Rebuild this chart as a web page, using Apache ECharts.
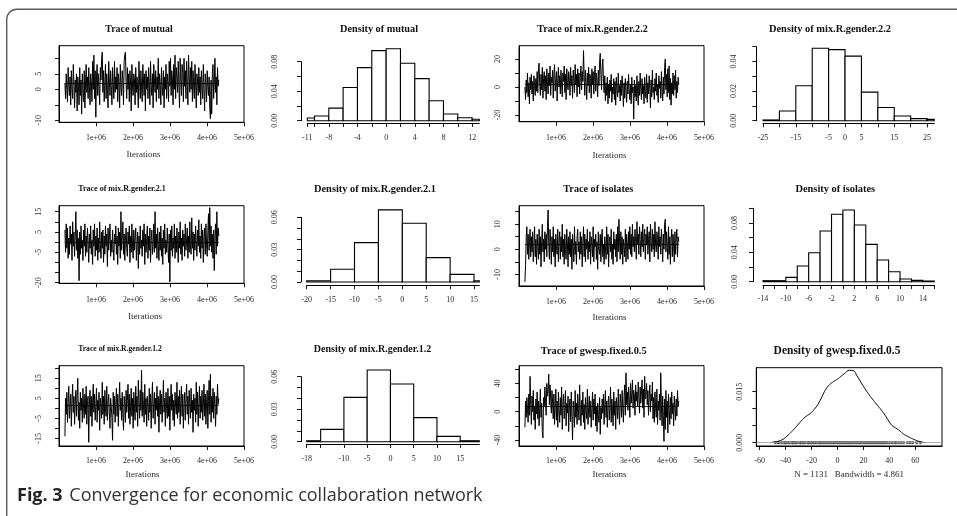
<!DOCTYPE html>
<html><head><meta charset="utf-8">
<script src="https://cdn.jsdelivr.net/npm/echarts@6/dist/echarts.min.js"></script>
<style>html,body{margin:0;padding:0;background:#fff}#c{width:957px;height:516px}</style>
</head><body><div id="c"></div>
<script>
// ---------------- DATA ----------------
const traceIterStart = 160000;   // first sampled iteration
const traceIterThin = 17400;     // iterations between kept samples
const traceXTickValues = [1e6, 2e6, 3e6, 4e6, 5e6];

const traceMutual = [
  2,-3,5,0,-4,7,1,-2,4,-5, 6,0,-3,8,2,-6,3,-1,5,-7, 4,1,-5,7,-2,3,-8,5,0,-4,
  6,-6,2,8,-1,4,-3,7,1,-5, 5,2,-4,9,0,11,-3,6,-9,4, 8,-2,5,1,-5,7,3,10,12,-1,
  6,-4,2,8,-3,5,0,-6,9,3, -2,6,1,-5,7,2,-3,9,-1,4, 0,7,-4,5,2,-6,8,1,-2,6,
  3,-5,9,11,12,2,-3,7,0,5, -4,6,2,-7,8,1,-2,5,3,-5, 7,-1,4,0,-6,9,2,-3,6,1,
  -4,8,3,-2,5,-7,6,0,4,-3, 7,2,-5,9,1,-2,5,-6,8,3, -1,6,-4,4,0,10,-3,5,2,-5,
  7,1,-2,6,-6,4,0,8,-3,5, 2,-4,9,1,10,-2,6,3,-5,8, 0,11,-3,7,4,-1,9,2,-6,10,
  3,-2,8,5,-4,10,1,6,-3,9, 2,-5,11,4,-1,7,0,9,-4,6, 1,-3,8,2,-6,5,3,-2,7,-1,
  4,-5,6,1,-3,8,0,-7,5,2, -4,6,1,-2,4,-6,-9.5,3,-8,5, 8,-3,2,10,-1,4,-5,7,1,3];
const traceGender22 = [
  0,-9,5,-4,10,-7,3,-12,7,-2, 9,-5,4,-10,8,1,-6,6,-3,11, -4,13,17,2,-6,9,-2,14,-8,6,
  11,-3,8,-9,13,4,-5,10,1,15, -6,7,3,12,-8,9,16,-3,5,11, -10,6,14,0,8,-5,12,2,-7,10,
  4,15,-4,9,-9,13,3,-2,11,6, -6,14,1,8,-8,12,5,-4,16,2, 9,-7,13,0,10,-5,7,15,-2,11,
  4,26,8,-6,12,3,-9,10,1,14, -4,9,6,-8,13,2,11,-5,8,15, -3,10,5,-7,12,1,18,24,9,-2,
  14,20,6,-4,8,-10,3,-6,7,-12, 2,-8,5,-3,9,-11,0,-5,6,-9, 4,-13,7,-2,-7,10,-4,1,-10,5,
  -6,8,-1,-14,3,-8,6,-3,-11,4, -5,9,-2,-9,2,-12,7,-4,0,-23, 5,-7,1,-10,8,-3,-13,4,-6,10,
  -2,-9,6,-5,1,-12,7,-3,-8,9, -11,3,-5,8,-1,-15,5,-7,12,-4, 0,-9,6,-3,10,-6,2,-11,8,-1,
  4,-8,11,-3,-10,7,-5,14,20,-2, 9,-7,13,-4,15,-9,6,-13,3,-5, 10,-6,8,-2,12,-8,4,-4,7,2];
const traceGender21 = [
  6,-5,9,-3,7,-8,2,-6,8,-1, 4,-9,10,-2,5,-7,3,15,-4,6, -8,2,-19,5,-6,8,-3,1,-9,6,
  -2,9,-7,3,-5,7,0,-10,4,-3, 8,-6,1,-11,6,-2,9,-7,3,-4, 7,-9,2,-5,10,-1,-8,5,-3,6,
  -10,3,-6,8,-2,4,-12,7,-4,2, 9,-7,1,-5,6,-3,-9,4,-1,8, -6,3,-11,7,-2,5,-8,15,-4,2,
  10,-6,4,-9,1,7,-3,-7,5,-1, 8,-10,3,-5,9,-2,-8,6,-4,2, 7,-9,-1,5,-13,3,-6,8,-3,1,
  -7,6,-2,9,-11,4,-5,2,8,-8, 3,-4,7,-10,1,6,-6,-2,9,-5, 15,-3,4,-8,7,-1,-9,5,-4,8,
  -7,2,-11,6,-3,9,-6,1,-5,7, -2,-10,4,-19.5,6,-4,8,-7,2,-3, 9,-8,3,-5,7,-1,-10,5,-3,10,
  -6,2,-9,6,-2,4,-7,9,-4,1, 7,-8,3,-5,10,-2,-6,12,-3,5, -9,4,-4,8,-1,-7,6,-2,11,-5,
  3,-8,9,-3,6,-10,2,7,-6,9, -1,-7,5,14,-4,17,-2,8,-5,4, -8,6,-14,3,9,-6,15,-2,7,3];
const traceIsolates = [
  -13,-6,5,9,-2,6,-4,3,8,-3, 5,-1,7,-5,2,9,-3,4,-6,6, 1,-4,8,-2,5,-7,3,10,-1,4,
  -5,7,0,6,-3,9,15.7,2,-4,8, 3,-6,5,-1,9,-3,4,-7,6,1, -2,8,-5,3,7,-4,5,-1,10,-3,
  4,-6,6,0,-4,8,2,-7,5,-2, 7,-3,4,-8,6,1,-5,9,-2,3, -6,5,8,-1,3,-4,7,-2,5,-7,
  2,9,-3,6,-5,4,0,8,-4,3, -1,7,-6,5,2,-3,9,-5,4,1, 6,-4,3,-8,7,0,-2,6,-5,4,
  8,-3,2,-6,5,1,-4,9,-2,6, -7,3,5,-1,8,-4,2,-6,7,0, 4,-3,6,-5,9,-1,12,3,-4,7,
  -2,5,-6,4,1,-3,8,-5,6,2, -4,7,0,9,-2,6,-3,10,1,5, -1,8,3,-4,11,2,6,-2,9,4,
  -3,7,1,10,-1,5,8,-4,6,2, 9,-2,4,7,-5,10,3,-1,8,0, 6,-3,11,2,-1,7,4,-4,9,1,
  5,-2,8,3,-5,6,0,10,12,-1, 7,2,-4,9,-2,5,-6,4,8,-3, 6,1,-5,7,-2,4,8,-3,5,3];
const traceGender12 = [
  -14,5,-3,8,-7,3,11,-5,1,7, -9,4,12,-2,6,-8,2,9,-4,6, 15,-6,3,-10,8,-1,5,-7,10,0,
  -5,7,-3,11,-8,4,6,-17,2,9, -4,6,-9,3,12,-2,7,-6,1,10, -7,4,-1,8,-11,5,2,-5,13,-3,
  6,-8,9,0,-4,11,-6,3,7,-2, -10,5,1,-5,-16,8,-3,6,-7,2, 10,-4,7,-9,3,13,-1,5,-6,8,
  -3,-11,6,2,-7,9,-2,4,12,-5, 7,-8,1,10,-4,5,-10,8,0,-6, 11,-2,6,-9,14,3,-5,9,-1,19,
  -4,8,2,-7,12,-3,5,-9,6,1, -6,10,-2,7,-10,4,13,-5,2,8, -8,5,-1,11,-4,6,-12,3,9,-3,
  7,-7,2,14,-2,5,-9,8,0,-5, 10,-4,6,-11,3,12,-1,7,-6,4, -9,8,1,-3,13,-5,6,-2,9,-8,
  4,11,-4,7,-10,2,8,-6,5,12, -3,6,-8,9,1,-5,10,-2,4,-12, 7,-1,5,-7,13,-3,8,-9,3,11,
  -5,6,-2,9,-6,1,12,-4,7,-8, 3,9,-10,4,14,-3,17,-7,6,-2, 10,-5,8,1,-9,6,-3,12,2,5];
const traceGwesp = [
  -22,15,-8,20,3,-15,25,-5,50,10, -18,22,0,30,-12,8,-25,18,-3,28, -10,15,-20,5,32,-8,12,-28,-37,20,
  8,35,15,-5,40,22,28,53,10,38, 18,-2,30,12,-10,25,-18,6,32,-12, 15,-22,28,3,-15,20,-5,35,-25,10,
  25,-10,5,30,-20,12,-2,22,-28,8, 18,-14,28,-6,-40,15,2,-22,30,-8, 12,-18,25,5,-12,38,0,-20,16,-5,
  28,-15,10,-25,20,2,-10,32,-18,6, 22,-8,15,-22,5,28,-12,18,-3,25, -20,8,-28,12,-5,-15,20,-32,6,-10,
  18,-2,25,-18,10,30,-8,15,-22,12, 22,-12,5,35,-15,18,2,-20,28,-5, 15,-25,20,8,-10,32,0,-18,25,12,
  -8,30,5,-15,22,38,-5,55,10,28, 2,35,18,-8,40,12,25,45,5,30, 22,-5,38,15,28,8,42,20,-2,35,
  12,28,45,5,32,-8,50,18,25,40, 10,30,-5,22,38,0,25,15,42,-10, 20,-15,28,5,-8,32,-18,15,2,25,
  -12,55,10,-20,22,-5,-42,18,-25,30, -8,15,-30,25,2,-18,20,-10,28,-3, 12,-20,22,5,-12,18,-6,30,8,15];

// histogram breaks and densities
const histMutualBreaks = [-12,-10,-8,-6,-4,-2,0,2,4,6,8,10,12,14];
const histMutualDensity = [0.0036,0.0063,0.017,0.045,0.072,0.095,0.0975,0.078,0.057,0.027,0.009,0.004,0.002];
const histGender22Breaks = [-25,-20,-15,-10,-5,0,5,10,15,20,25,30];
const histGender22Density = [0.0005,0.0066,0.0236,0.049,0.048,0.0436,0.0193,0.0089,0.0032,0.0014,0.0009];
const histGender21Breaks = [-20,-15,-10,-5,0,5,10,15,20];
const histGender21Density = [0.0012,0.0118,0.0365,0.0669,0.0545,0.0226,0.0071,0.0012];
const histIsolatesBreaks = [-14,-12,-10,-8,-6,-4,-2,0,2,4,6,8,10,12,14,16];
const histIsolatesDensity = [0.0014,0.0014,0.0059,0.0214,0.0395,0.0691,0.0918,0.0977,0.0773,0.0509,0.0295,0.0136,0.0036,0.0018,0.0009];
const histGender12Breaks = [-20,-15,-10,-5,0,5,10,15,20];
const histGender12Density = [0.0009,0.0114,0.0409,0.0662,0.0532,0.0222,0.0049,0.0009];

// kernel density of gwesp.fixed.0.5
const gwespDensityX = [-52,-49,-45,-42,-39,-36,-33,-30,-27,-24,-21,-18,-15,-12,-9,-6,-3,0,3,6,9,12,15,18,21,24,27,30,33,36,39,42,45,48,51,54,57,60,63,66,68];
const gwespDensityY = [0,0.0002,0.0005,0.001,0.0019,0.003,0.0042,0.0055,0.0068,0.0078,0.0086,0.0098,0.0113,0.0135,0.0157,0.0171,0.018,0.0187,0.0196,0.0205,0.0213,0.0212,0.0197,0.0178,0.016,0.0143,0.0128,0.0114,0.01,0.0085,0.0067,0.0051,0.0043,0.0035,0.0025,0.0019,0.0013,0.0008,0.0004,0.0001,0];
const gwespRug = [-48,-46,-45,-43,-41,-40,-38.5,-37,-35,-34,-32.5,-31,-29,-28,-26.5,-25,-23,-22,-20.5,-19,-17.5,-16,-14,-13,-11.5,-10,-8.5,-7,-5.5,-4,-2.5,-1,0.5,2,3.5,5,6.5,8,9.5,11,12.5,14,15.5,17,18.5,20,21.5,23,24.5,26,27.5,29,30.5,32,33.5,35,36.5,38,40,42,44,45,47,49,51,54,56,58,61,64];

// tick values and shown tick labels
const mutualTraceYTicks = [-10,-5,0,5,10],            mutualTraceYLabels = [-10,0,5];
const gender22TraceYTicks = [-20,-10,0,10,20],        gender22TraceYLabels = [-20,0,20];
const gender21TraceYTicks = [-20,-15,-10,-5,0,5,10,15], gender21TraceYLabels = [-20,-5,5,15];
const isolatesTraceYTicks = [-10,-5,0,5,10,15],       isolatesTraceYLabels = [-10,0,10];
const gender12TraceYTicks = [-15,-10,-5,0,5,10,15,20], gender12TraceYLabels = [-15,-5,5,15];
const gwespTraceYTicks = [-40,-20,0,20,40,60],        gwespTraceYLabels = [-40,0,40];

const mutualHistXTicks = [-11,-10,-8,-6,-4,-2,0,2,4,6,8,10,12], mutualHistXLabels = [-11,-8,-4,0,4,8,12];
const mutualHistYTicks = [0,0.02,0.04,0.06,0.08], mutualHistYLabels = [0,0.04,0.08];
const gender22HistXTicks = [-25,-20,-15,-10,-5,0,5,10,15,20,25], gender22HistXLabels = [-25,-15,-5,0,5,15,25];
const gender22HistYTicks = [0,0.01,0.02,0.03,0.04,0.05], gender22HistYLabels = [0,0.02,0.04];
const gender21HistXTicks = [-20,-15,-10,-5,0,5,10,15], gender21HistXLabels = [-20,-15,-10,-5,0,5,10,15];
const gender21HistYTicks = [0,0.01,0.02,0.03,0.04,0.05,0.06], gender21HistYLabels = [0,0.03,0.06];
const isolatesHistXTicks = [-14,-12,-10,-8,-6,-4,-2,0,2,4,6,8,10,12,14,16], isolatesHistXLabels = [-14,-10,-6,-2,2,6,10,14];
const isolatesHistYTicks = [0,0.02,0.04,0.06,0.08,0.1], isolatesHistYLabels = [0,0.04,0.08];
const gender12HistXTicks = [-18,-15,-10,-5,0,5,10,15], gender12HistXLabels = [-18,-10,-5,0,5,10,15];
const gender12HistYTicks = [0,0.01,0.02,0.03,0.04,0.05,0.06], gender12HistYLabels = [0,0.03,0.06];
const gwespDensXTicks = [-60,-40,-20,0,20,40,60], gwespDensXLabels = [-60,-40,-20,0,20,40,60];
const gwespDensYTicks = [0,0.005,0.01,0.015], gwespDensYLabels = [0,0.015];

// ---------------- LAYOUT / STYLE ----------------
const SERIF = '"Liberation Serif","DejaVu Serif",serif';
const LBL = '#2a2a2a';

const panels = [
  {kind:'trace', title:'Trace of mutual', tx:139, ty:29, ts:9.9,
   grid:{left:59, top:45.7, width:185, height:76.6}, y:[-10.65,14.06], vals:traceMutual,
   yTicks:mutualTraceYTicks, yLabels:mutualTraceYLabels, nameGap:28, nameShift:16, xMargin:12, yMargin:16},
  {kind:'hist', title:'Density of mutual', tx:379, ty:29, ts:10.25,
   grid:{left:307.3, top:61.7, width:172, height:59}, x:[-11,13], y:[0,0.08], breaks:histMutualBreaks, dens:histMutualDensity,
   xTicks:mutualHistXTicks, xLabels:mutualHistXLabels, yTicks:mutualHistYTicks, yLabels:mutualHistYLabels, yOff:6.3, xOff:2.3, xMargin:11, yMargin:22, dec:2},
  {kind:'trace', title:'Trace of mix.R.gender.2.2', tx:592.5, ty:29, ts:10.1,
   grid:{left:519, top:45.7, width:185, height:76}, y:[-24.8,29.5], vals:traceGender22,
   yTicks:gender22TraceYTicks, yLabels:gender22TraceYLabels, nameGap:29, nameShift:4, xMargin:12, yMargin:17},
  {kind:'hist', title:'Density of mix.R.gender.2.2', tx:830, ty:29, ts:10.4,
   grid:{left:763, top:46.7, width:171.3, height:74}, x:[-25,27.2], y:[0,0.05], breaks:histGender22Breaks, dens:histGender22Density,
   xTicks:gender22HistXTicks, xLabels:gender22HistXLabels, yTicks:gender22HistYTicks, yLabels:gender22HistYLabels, yOff:6.7, xOff:2.6, xMargin:11, yMargin:18, dec:2},
  {kind:'trace', title:'Trace of mix.R.gender.2.1', tx:122, ty:189.3, ts:8,
   grid:{left:59, top:205.7, width:185, height:77.6}, y:[-20.3,17.96], vals:traceGender21,
   yTicks:gender21TraceYTicks, yLabels:gender21TraceYLabels, nameGap:29, nameShift:13, xMargin:13, yMargin:16},
  {kind:'hist', title:'Density of mix.R.gender.2.1', tx:375, ty:189.3, ts:10.4,
   grid:{left:306.7, top:217.3, width:172.6, height:64.7}, x:[-20,16.1], y:[0,0.06], breaks:histGender21Breaks, dens:histGender21Density,
   xTicks:gender21HistXTicks, xLabels:gender21HistXLabels, yTicks:gender21HistYTicks, yLabels:gender21HistYLabels, yOff:5.7, xOff:3.3, xMargin:11, yMargin:22, dec:2},
  {kind:'trace', title:'Trace of isolates', tx:598.3, ty:189.3, ts:10.2,
   grid:{left:519, top:205.7, width:185, height:80.3}, y:[-14.67,17.4], vals:traceIsolates,
   yTicks:isolatesTraceYTicks, yLabels:isolatesTraceYLabels, nameGap:27, nameShift:4, xMargin:12, yMargin:17},
  {kind:'hist', title:'Density of isolates', tx:835.3, ty:189.3, ts:10.4,
   grid:{left:763, top:208.3, width:171.3, height:73.4}, x:[-14,16], y:[0,0.1], breaks:histIsolatesBreaks, dens:histIsolatesDensity,
   xTicks:isolatesHistXTicks, xLabels:isolatesHistXLabels, yTicks:isolatesHistYTicks, yLabels:isolatesHistYLabels, yOff:10, xOff:3.3, xMargin:10, yMargin:14, dec:2},
  {kind:'trace', title:'Trace of mix.R.gender.1.2', tx:120, ty:349.3, ts:7.65,
   grid:{left:59, top:365.7, width:185, height:80.3}, y:[-18.85,21.3], vals:traceGender12,
   yTicks:gender12TraceYTicks, yLabels:gender12TraceYLabels, nameGap:24, nameShift:18, xMargin:10.5, yMargin:16},
  {kind:'hist', title:'Density of mix.R.gender.1.2', tx:372.5, ty:349.3, ts:10,
   grid:{left:306.7, top:376.7, width:172.6, height:65}, x:[-18,19.1], y:[0,0.06], breaks:histGender12Breaks, dens:histGender12Density,
   xTicks:gender12HistXTicks, xLabels:gender12HistXLabels, yTicks:gender12HistYTicks, yLabels:gender12HistYLabels, yOff:5.7, xOff:2.3, xMargin:11, yMargin:22, dec:2},
  {kind:'trace', title:'Trace of gwesp.fixed.0.5', tx:593.7, ty:351, ts:10.35,
   grid:{left:519, top:365.7, width:185, height:80.3}, y:[-48.5,65.1], vals:traceGwesp,
   yTicks:gwespTraceYTicks, yLabels:gwespTraceYLabels, nameGap:24.5, nameShift:4, xMargin:10.5, yMargin:17},
  {kind:'dens', title:'Density of gwesp.fixed.0.5', tx:837, ty:351, ts:11.5,
   grid:{left:756.3, top:367.7, width:185.7, height:78.3}, x:[-62.6,80.6], y:[-0.00097,0.02206],
   xTicks:gwespDensXTicks, xLabels:gwespDensXLabels, yTicks:gwespDensYTicks, yLabels:gwespDensYLabels, xMargin:10.5, yMargin:12, dec:3,
   xName:'N = 1131   Bandwidth = 4.861', nameGap:24}
];

const grids = [], xAxes = [], yAxes = [], series = [], graphics = [];

function tickStyle(vals) {
  return {show:true, inside:false, length:4, customValues:vals, lineStyle:{color:'#000', width:0.9}};
}
function lblStyle(vals, fmt, margin, extra) {
  return Object.assign({show:true, customValues:vals, formatter:fmt, margin:margin,
    fontFamily:SERIF, fontSize:8, color:LBL, hideOverlap:false}, extra || {});
}

panels.forEach((p, i) => {
  const boxed = p.kind !== 'hist';
  grids.push(Object.assign({show:boxed, borderColor:'#000', borderWidth:1, backgroundColor:'rgba(0,0,0,0)',
    containLabel:false, outerBoundsMode:'none'}, p.grid));
  const fmtDec = v => Number(v).toFixed(p.dec);
  if (p.kind === 'trace') {
    xAxes.push({gridIndex:i, type:'value', min:0, max:5e6, splitLine:{show:false},
      axisLine:{show:true, onZero:false, lineStyle:{color:'#000', width:1}},
      axisTick:tickStyle(traceXTickValues),
      axisLabel:lblStyle(traceXTickValues, v => (v/1e6) + 'e+06', p.xMargin),
      name:'Iterations', nameLocation:'middle', nameGap:p.nameGap, nameMoveOverlap:false,
      nameTextStyle:{fontFamily:SERIF, fontSize:9, color:LBL, padding:[0, p.nameShift, 0, 0]}});
    yAxes.push({gridIndex:i, type:'value', min:p.y[0], max:p.y[1], splitLine:{show:false},
      axisLine:{show:true, onZero:false, lineStyle:{color:'#000', width:1}},
      axisTick:tickStyle(p.yTicks),
      axisLabel:lblStyle(p.yLabels, v => String(v), p.yMargin, {rotate:90})});
    const data = p.vals.map((v, k) => [traceIterStart + k * traceIterThin, v]);
    const mean = p.vals.reduce((a, b) => a + b, 0) / p.vals.length;
    series.push({type:'line', xAxisIndex:i, yAxisIndex:i, data:data, symbol:'none', silent:true,
      lineStyle:{color:'#000', width:1}, animation:false, z:2,
      markLine:{silent:true, symbol:['none','none'], animation:false, label:{show:false},
        lineStyle:{color:'#000', width:0.8, type:'solid'},
        data:[[{coord:[data[0][0], mean]}, {coord:[data[data.length-1][0], mean]}]]}});
  } else {
    xAxes.push(Object.assign({gridIndex:i, type:'value', min:p.x[0], max:p.x[1], splitLine:{show:false},
      offset: p.xOff || 0,
      axisLine:{show:true, onZero:false, lineStyle:{color:'#000', width:1}},
      axisTick:tickStyle(p.xTicks),
      axisLabel:lblStyle(p.xLabels, v => String(v), p.xMargin)},
      p.xName ? {name:p.xName, nameLocation:'middle', nameGap:p.nameGap, nameMoveOverlap:false,
        nameTextStyle:{fontFamily:SERIF, fontSize:9, color:LBL}} : {}));
    yAxes.push({gridIndex:i, type:'value', min:p.y[0], max:p.y[1], splitLine:{show:false},
      offset: p.yOff || 0,
      axisLine:{show:true, onZero:false, lineStyle:{color:'#000', width:1}},
      axisTick:tickStyle(p.yTicks),
      axisLabel:lblStyle(p.yLabels, fmtDec, p.yMargin, {rotate:90})});
    if (p.kind === 'hist') {
      const xmin = p.x[0], xmax = p.x[1];
      const data = p.dens.map((d, k) => [p.breaks[k], p.breaks[k+1], d]);
      series.push({type:'custom', xAxisIndex:i, yAxisIndex:i, data:data, animation:false, silent:true,
        encode:{x:[0,1], y:2},
        renderItem:function(params, api) {
          const x0 = Math.max(api.value(0), xmin), x1 = Math.min(api.value(1), xmax);
          if (x1 <= x0) return null;
          const a = api.coord([x0, api.value(2)]), b = api.coord([x1, 0]);
          return {type:'rect', shape:{x:a[0], y:a[1], width:b[0]-a[0], height:b[1]-a[1]},
            style:{fill:'#fff', stroke:'#000', lineWidth:1.1}};
        }});
    } else {
      series.push({type:'line', xAxisIndex:i, yAxisIndex:i, smooth:true, symbol:'none', silent:true,
        data:gwespDensityX.map((x, k) => [x, gwespDensityY[k]]), animation:false, z:3,
        lineStyle:{color:'#000', width:1},
        markLine:{silent:true, symbol:['none','none'], animation:false, label:{show:false},
          lineStyle:{color:'#9a9a9a', width:0.8, type:'solid'}, data:[{yAxis:0}]}});
      series.push({type:'scatter', xAxisIndex:i, yAxisIndex:i, silent:true, animation:false, z:2,
        data:gwespRug.map(x => [x, 0]), symbol:'rect', symbolSize:[2.4, 3],
        itemStyle:{color:'#333'}});
    }
  }
  graphics.push({type:'text', x:p.tx, y:p.ty, silent:true,
    style:{text:p.title, fontFamily:SERIF, fontWeight:'bold', fontSize:p.ts, fill:'#111',
      textAlign:'center', textVerticalAlign:'middle', align:'center', verticalAlign:'middle'}});
});

// outer frame (rounded top-left corner) and caption
graphics.push({type:'rect', silent:true, z:-1,
  shape:{x:6.7, y:9.3, width:1000, height:600, r:10},
  style:{fill:'none', stroke:'#5a5a5a', lineWidth:1.4}});
graphics.push({type:'text', x:17, y:495.5, silent:true,
  style:{text:'{b|Fig. 3}  {n|Convergence for economic collaboration network}',
    textVerticalAlign:'middle', verticalAlign:'middle',
    rich:{b:{fontFamily:'"Open Sans",sans-serif', fontWeight:'bold', fontSize:18, fill:'#231f20', color:'#231f20'},
          n:{fontFamily:'"Open Sans",sans-serif', fontSize:18, fill:'#333', color:'#333'}}}});

const chart = echarts.init(document.getElementById('c'), null, {renderer:'canvas'});
chart.setOption({
  animation:false, backgroundColor:'#fff',
  grid:grids, xAxis:xAxes, yAxis:yAxes, series:series, graphic:{elements:graphics}
});
</script></body></html>
